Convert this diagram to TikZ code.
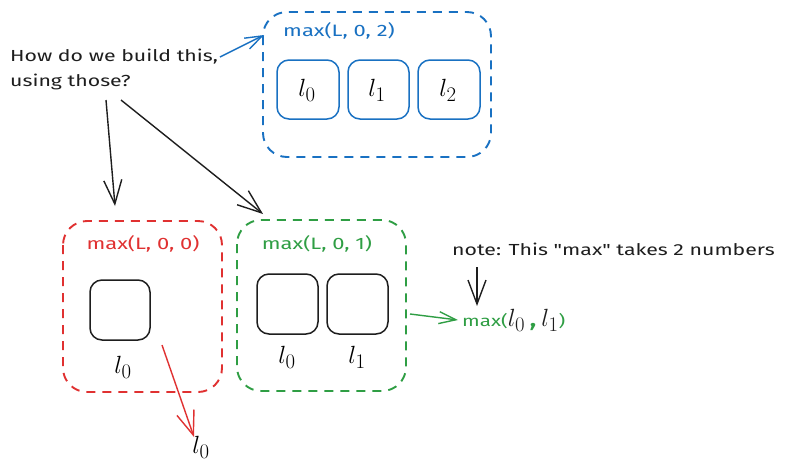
\documentclass[tikz,border=0pt]{standalone}
\usepackage[no-math]{fontspec}
\setmainfont{Fira Sans}[FakeStretch=1.33, Ligatures=TeXOff]
\usetikzlibrary{arrows.meta}
\definecolor{inkblue}{HTML}{1971C2}
\definecolor{inkred}{HTML}{E03131}
\definecolor{inkgreen}{HTML}{2F9E44}
\definecolor{ink}{HTML}{1E1E1E}
\tikzset{
  group/.style={draw, line width=1.9pt, dash pattern=on 9pt off 7pt, rounded corners=24pt},
  cell/.style={draw, line width=1.5pt, rounded corners=12pt},
  arr/.style={line width=1.4pt, -{Straight Barb[length=24pt,width=18pt,line width=1.4pt]}},
  shortarr/.style={line width=1.4pt, -{Straight Barb[length=17pt,width=12pt,line width=1.4pt]}},
  hand/.style={font=\fontsize{16}{24.5}\selectfont, text=ink, align=left, inner sep=0pt},
  tag/.style={font=\fontsize{16.5}{19}\selectfont, inner sep=0pt},
  sym/.style={font=\fontsize{24.88}{29}\selectfont, inner sep=0pt}
}
\begin{document}
\begin{tikzpicture}[x=1pt,y=-1pt]
\useasboundingbox (0,0) rectangle (790,467);
\fill[white] (0,0) rectangle (790,467);

% target: three-element group
\draw[group, inkblue] (263,12) rectangle (491,157);
\node[tag, text=inkblue, anchor=west] (tagB) at (283,31) {max(L, 0, 2)};
\draw[cell, inkblue] (277,60) rectangle (339,119);
\draw[cell, inkblue] (348,60) rectangle (409,119);
\draw[cell, inkblue] (418,60) rectangle (480,119);
\node[sym] (b0) at (307,90) {$l_0$};
\node[sym] (b1) at (377,90) {$l_1$};
\node[sym] (b2) at (448,90) {$l_2$};
\coordinate (blueIn) at (264,35);

% question
\node[hand, anchor=north west] (q) at (10,49) {How do we build this,\\using those?};
\coordinate (qA) at (220,57);
\coordinate (qB) at (106,100);
\coordinate (qC) at (121,100);

% one-element group
\draw[group, inkred] (63,221) rectangle (222,392);
\node[tag, text=inkred] (tagR) at (143,244) {max(L, 0, 0)};
\draw[cell, ink] (90,280) rectangle (150,340);
\node[sym] (r0) at (123,367) {$l_0$};
\coordinate (redIn) at (115,206);
\coordinate (redFrom) at (162,345);
\coordinate (redTo) at (194,437);
\node[sym] (rOut) at (201,447) {$l_0$};

% two-element group
\draw[group, inkgreen] (237,220) rectangle (406,391);
\node[tag, text=inkgreen] (tagG) at (317,244) {max(L, 0, 1)};
\draw[cell, ink] (257,274) rectangle (318,334);
\draw[cell, ink] (327,274) rectangle (388,334);
\node[sym] (g0) at (287,357) {$l_0$};
\node[sym] (g1) at (357,357) {$l_1$};
\coordinate (greenIn) at (263,214);
\coordinate (greenFrom) at (410,314);
\coordinate (greenTo) at (458,320);
\node[anchor=west, inner sep=0pt, text=inkgreen] (gOut) at (462,320)
  {\fontsize{15.5}{18}\selectfont max(\fontsize{24.88}{29}\selectfont\textcolor{ink}{$l_0$}\,,\,\textcolor{ink}{$l_1$}\fontsize{15.5}{18}\selectfont)};

% note
\node[hand, anchor=west] (note) at (452,249) {note: This "max" takes 2 numbers};
\coordinate (noteFrom) at (477,267);
\coordinate (noteTo) at (477,306);

% connectors
\draw[shortarr, inkblue] (qA) -- (blueIn);
\draw[arr, ink] (qB) -- (redIn);
\draw[arr, ink] (qC) -- (greenIn);
\draw[arr, inkred] (redFrom) -- (redTo);
\draw[shortarr, inkgreen] (greenFrom) -- (greenTo);
\draw[arr, ink] (noteFrom) -- (noteTo);
\end{tikzpicture}
\end{document}
